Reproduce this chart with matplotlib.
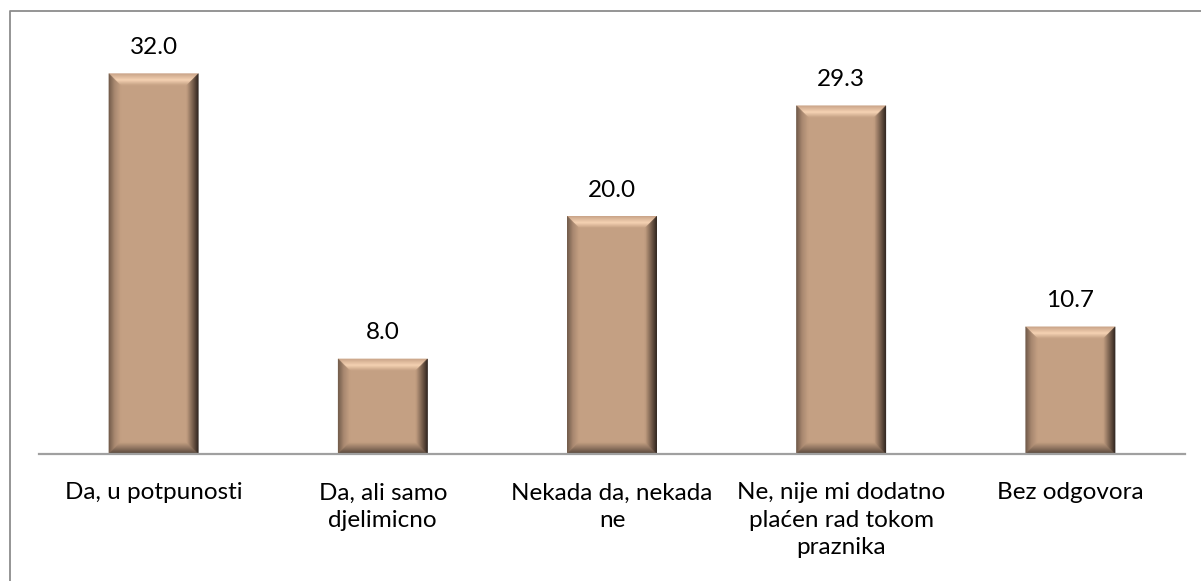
import numpy as np
import matplotlib.pyplot as plt
from matplotlib.patches import Polygon
from matplotlib.lines import Line2D
from matplotlib.colors import to_rgb

categories = [
    "Da, u potpunosti",
    "Da, ali samo\ndjelimicno",
    "Nekada da, nekada\nne",
    "Ne, nije mi dodatno\nplaćen rad tokom\npraznika",
    "Bez odgovora",
]
values = [32.0, 8.0, 20.0, 29.3, 10.7]

W, H = 1201, 581
fig = plt.figure(figsize=(W / 100, H / 100), dpi=100)
ax_left, ax_right, ax_bottom, ax_top = 39, 1185, 454, 38
ax = fig.add_axes([ax_left / W, 1 - ax_bottom / H,
                   (ax_right - ax_left) / W, (ax_bottom - ax_top) / H])

ymax = 35
ax.set_xlim(-0.5, len(values) - 0.5)
ax.set_ylim(0, ymax)

x = np.arange(len(values))
bar_w = 0.39
face = "#C4A083"
bars = ax.bar(x, values, width=bar_w, color=face, edgecolor="none", zorder=2)

# pixel size of the bevel converted into data units
px_x = (len(values)) / (ax_right - ax_left)
px_y = ymax / (ax_bottom - ax_top)
bevel = 12
bx, by = bevel * px_x, bevel * px_y


def mix(stops, t):
    # piecewise-linear colour ramp, stops = [(pos, colour), ...]
    for (p0, c0), (p1, c1) in zip(stops[:-1], stops[1:]):
        if p0 <= t <= p1:
            f = (t - p0) / (p1 - p0) if p1 > p0 else 0
            a, b = np.array(to_rgb(c0)), np.array(to_rgb(c1))
            return tuple(a + (b - a) * f)
    return to_rgb(stops[-1][1])


top_stops = [(0, "#C9A488"), (0.55, "#F6D3B4"), (1, face)]
left_stops = [(0, "#6E5848"), (0.5, "#A88870"), (1, face)]
right_stops = [(0, "#2B221D"), (0.4, "#6A5444"), (1, face)]
bottom_stops = [(0, "#4E4036"), (0.5, "#8C725E"), (1, face)]

steps = 24
for rect in bars:
    x0 = rect.get_x()
    x1 = x0 + rect.get_width()
    y0, y1 = 0, rect.get_height()
    for i in range(steps):
        t0, t1 = i / steps, (i + 1) / steps
        tm = (t0 + t1) / 2
        facets = [
            ([(x0 + t0 * bx, y1 - t0 * by), (x1 - t0 * bx, y1 - t0 * by),
              (x1 - t1 * bx, y1 - t1 * by), (x0 + t1 * bx, y1 - t1 * by)], top_stops),
            ([(x0 + t0 * bx, y0 + t0 * by), (x0 + t0 * bx, y1 - t0 * by),
              (x0 + t1 * bx, y1 - t1 * by), (x0 + t1 * bx, y0 + t1 * by)], left_stops),
            ([(x1 - t0 * bx, y0 + t0 * by), (x1 - t0 * bx, y1 - t0 * by),
              (x1 - t1 * bx, y1 - t1 * by), (x1 - t1 * bx, y0 + t1 * by)], right_stops),
            ([(x0 + t0 * bx, y0 + t0 * by), (x1 - t0 * bx, y0 + t0 * by),
              (x1 - t1 * bx, y0 + t1 * by), (x0 + t1 * bx, y0 + t1 * by)], bottom_stops),
        ]
        for pts, stops in facets:
            ax.add_patch(Polygon(pts, closed=True, facecolor=mix(stops, tm),
                                 edgecolor=mix(stops, tm), linewidth=0.3,
                                 zorder=3))
    ax.text(rect.get_x() + rect.get_width() / 2, y1 + 26 * px_y,
            f"{rect.get_height():.1f}", ha="center", va="center",
            fontsize=17.5, family="Lato", color="black")

for spine in ("left", "right", "top"):
    ax.spines[spine].set_visible(False)
ax.spines["bottom"].set_color("#A0A0A0")
ax.spines["bottom"].set_linewidth(1.6)
ax.spines["bottom"].set_zorder(4)
ax.set_yticks([])
ax.set_xticks(x)
ax.set_xticklabels(categories, fontsize=17.5, family="Lato", linespacing=1.37)
ax.tick_params(axis="x", length=0, pad=20.5)
for lbl in ax.get_xticklabels():
    lbl.set_verticalalignment("top")

# chart frame
fig.add_artist(Line2D([9.5 / W, 9.5 / W, 1], [0, 1 - 10.5 / H, 1 - 10.5 / H],
                      transform=fig.transFigure, color="#8C8C8C", linewidth=1.3))

fig.savefig("out.png", dpi=100)
